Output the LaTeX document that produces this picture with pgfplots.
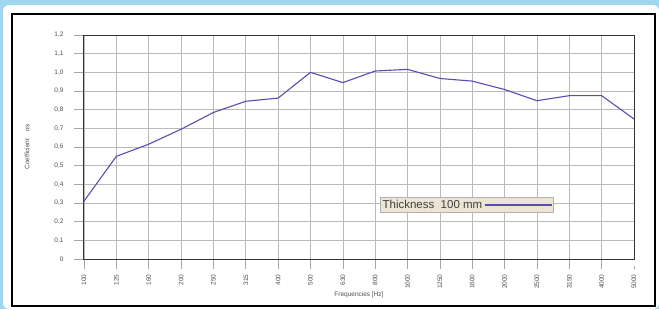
\documentclass[border=0pt]{standalone}
\usepackage{pgfplots}
\pgfplotsset{compat=1.18}
\usepackage{fontspec}
\setmainfont{Liberation Sans}
\definecolor{bgblue}{RGB}{160,214,238}
\definecolor{linecol}{RGB}{88,78,178}
\definecolor{legfill}{RGB}{236,228,212}
\definecolor{txtgray}{RGB}{80,80,80}
\begin{document}
\begin{tikzpicture}
\fill[bgblue] (0pt,0pt) rectangle (659pt,309pt);
\fill[white, rounded corners=6pt] (3pt,0pt) rectangle (659pt,304pt);
\draw[black, line width=1.6pt] (12pt,3pt) rectangle (655pt,295pt);
\begin{axis}[
  at={(84pt,50pt)}, anchor=south west,
  scale only axis, width=550pt, height=224pt,
  xmin=0, xmax=17, ymin=0, ymax=1.2,
  xtick={0,...,17},
  xticklabels={100,125,160,200,250,315,400,500,630,800,1000,1250,1600,2000,2500,3150,4000,5000},
  ytick={0,0.1,0.2,0.3,0.4,0.5,0.6,0.7,0.8,0.9,1.0,1.1,1.2},
  yticklabels={0,{0,1},{0,2},{0,3},{0,4},{0,5},{0,6},{0,7},{0,8},{0,9},{1,0},{1,1},{1,2}},
  x tick label style={rotate=90, anchor=east, font=\fontsize{6.5}{7}\selectfont, text=txtgray},
  y tick label style={font=\fontsize{6.5}{7}\selectfont, text=txtgray},
  xticklabel shift=2pt,
  yticklabel shift=7pt,
  tick align=outside,
  xtick pos=bottom, ytick pos=left,
  major tick length=10pt,
  xtick style={gray!70, line width=0.6pt, shorten >=7pt},
  ytick style={gray!70, line width=0.6pt},
  grid=major,
  major grid style={gray!55, line width=0.6pt},
  axis line style={black!80, line width=1pt},
  xlabel={Frequencies [Hz]},
  ylabel={Coefficient\ \ \ \ αs},
  xlabel style={font=\fontsize{6.5}{7}\selectfont, text=txtgray,
    at={(axis description cs:0.5,-0.161)}, anchor=center},
  ylabel style={font=\fontsize{6.5}{7}\selectfont, text=txtgray,
    at={(axis description cs:-0.1036,0.5)}, anchor=center},
  /pgf/number format/assume math mode=true,
  legend style={at={(0.538,0.241)}, anchor=west, fill=legfill, draw=gray!60,
    font=\fontsize{11.5}{12}\selectfont, text=black!75, inner sep=0.5pt,
    legend cell align=left},
  legend plot pos=right,
  legend image code/.code={\draw[#1] (0pt,0pt) -- (67pt,0pt);},
]
\addplot[color=linecol, line width=1.1pt] coordinates {
(0,0.31) (1,0.55) (2,0.615) (3,0.695) (4,0.785) (5,0.845) (6,0.862) (7,1.0)
(8,0.945) (9,1.007) (10,1.016) (11,0.967) (12,0.953) (13,0.908) (14,0.848)
(15,0.875) (16,0.875) (17,0.750)
};
\addlegendentry{Thickness\ \ 100 mm\hspace{6pt}}
\end{axis}
\end{tikzpicture}
\end{document}
